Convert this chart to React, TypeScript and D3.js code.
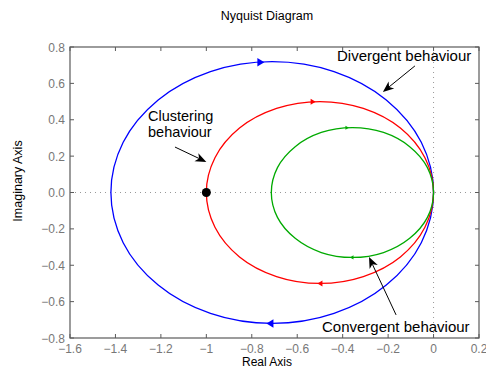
import React from 'react';
import * as d3 from 'd3';

// chart data
const xTicks = [-1.6, -1.4, -1.2, -1, -0.8, -0.6, -0.4, -0.2, 0, 0.2];
const yTicks = [-0.8, -0.6, -0.4, -0.2, 0, 0.2, 0.4, 0.6, 0.8];

// counter-clockwise from the origin
const bluePoints: [number, number][] = [
  [0, 0], [-0.054, 0.276], [-0.208, 0.509], [-0.438, 0.665], [-0.71, 0.72], [-0.982, 0.665],
  [-1.212, 0.509], [-1.366, 0.276], [-1.42, 0], [-1.366, -0.276], [-1.212, -0.509], [-0.982, -0.665],
  [-0.71, -0.72], [-0.438, -0.665], [-0.208, -0.509], [-0.054, -0.276],
];
const redPoints: [number, number][] = [
  [0, 0], [-0.038, 0.191], [-0.146, 0.354], [-0.309, 0.462], [-0.5, 0.5], [-0.691, 0.462],
  [-0.854, 0.354], [-0.962, 0.191], [-1.0, 0], [-0.962, -0.191], [-0.854, -0.354], [-0.691, -0.462],
  [-0.5, -0.5], [-0.309, -0.462], [-0.146, -0.354], [-0.038, -0.191],
];
const greenPoints: [number, number][] = [
  [0, 0], [-0.027, 0.137], [-0.105, 0.252], [-0.22, 0.33], [-0.357, 0.357], [-0.494, 0.33],
  [-0.609, 0.252], [-0.687, 0.137], [-0.714, 0], [-0.687, -0.137], [-0.609, -0.252], [-0.494, -0.33],
  [-0.357, -0.357], [-0.22, -0.33], [-0.105, -0.252], [-0.027, -0.137],
];

// direction markers: x, y, direction (1 = right, -1 = left)
const blueArrows: [number, number, number][] = [[-0.76, 0.716, 1], [-0.72, -0.72, -1]];
const redArrows: [number, number, number][] = [[-0.53, 0.499, 1], [-0.5, -0.5, -1]];
const greenArrows: [number, number, number][] = [[-0.38, 0.356, 1], [-0.36, -0.357, -1]];

const criticalPoint: [number, number] = [-1, 0];

const App = () => {
  const width = 486, height = 370;
  const marginLeft = 70, marginRight = 7, marginTop = 47, marginBottom = 32;

  const x = d3.scaleLinear().domain([-1.6, 0.2]).range([marginLeft, width - marginRight]);
  const y = d3.scaleLinear().domain([-0.8, 0.8]).range([height - marginBottom, marginTop]);

  const line = d3.line<[number, number]>()
    .x(d => x(d[0]))
    .y(d => y(d[1]))
    .curve(d3.curveCatmullRomClosed.alpha(0.5));

  const font = '"Liberation Sans", Arial, Helvetica, sans-serif';
  const AXIS = '#5a5a5a';
  const TICK_TEXT = '#777';

  const series = [
    { pts: bluePoints, arrows: blueArrows, color: '#0000ff', size: 7 },
    { pts: redPoints, arrows: redArrows, color: '#ff0000', size: 5 },
    { pts: greenPoints, arrows: greenArrows, color: '#00aa00', size: 3.5 },
  ];

  const tickLen = 4;
  const x0 = x(-1.6), x1 = x(0.2), y0 = y(-0.8), y1 = y(0.8);
  const labelCenter = 267;

  // annotation arrow: line with a filled head at the end
  const annArrow = (from: [number, number], to: [number, number], key: string) => {
    const fx = x(from[0]), fy = y(from[1]), tx = x(to[0]), ty = y(to[1]);
    const ang = Math.atan2(ty - fy, tx - fx);
    const L = 11, W = 4.5, notch = 3;
    const bx = tx - L * Math.cos(ang), by = ty - L * Math.sin(ang);
    const nx = tx - (L - notch) * Math.cos(ang), ny = ty - (L - notch) * Math.sin(ang);
    const px = -Math.sin(ang), py = Math.cos(ang);
    const head = `M${tx},${ty} L${bx + W * px},${by + W * py} L${nx},${ny} L${bx - W * px},${by - W * py} Z`;
    return (
      <g key={key}>
        <line x1={fx} y1={fy} x2={nx} y2={ny} stroke="#000" strokeWidth={1} />
        <path d={head} fill="#000" />
      </g>
    );
  };

  return (
    <svg width={width} height={height} style={{ position: 'absolute', left: 0, top: 0, background: '#fff' }}
      fontFamily={font}>
      <rect x={0} y={0} width={width} height={height} fill="#fff" />

      {/* zero lines */}
      <line x1={x0} x2={x1} y1={y(0)} y2={y(0)} stroke="#999" strokeWidth={1} strokeDasharray="1,4" />
      <line x1={x(0)} x2={x(0)} y1={y0} y2={y1} stroke="#999" strokeWidth={1} strokeDasharray="1,4" />

      {/* curves */}
      {series.map((s, i) => (
        <g key={i}>
          <path d={line(s.pts) || ''} fill="none" stroke={s.color} strokeWidth={1.3} />
          {s.arrows.map((a, j) => {
            const cx = x(a[0]), cy = y(a[1]);
            const L = s.size, W = s.size * 0.6;
            const d = `M${cx + a[2] * L / 2},${cy} L${cx - a[2] * L / 2},${cy - W} L${cx - a[2] * L / 2},${cy + W} Z`;
            return <path key={j} d={d} fill={s.color} />;
          })}
        </g>
      ))}

      {/* critical point */}
      <circle cx={x(criticalPoint[0])} cy={y(criticalPoint[1])} r={4.5} fill="#000" />

      {/* box and ticks */}
      <rect x={x0} y={y1} width={x1 - x0} height={y0 - y1} fill="none" stroke={AXIS} strokeWidth={1.2} />
      {xTicks.map(t => (
        <g key={'xt' + t}>
          <line x1={x(t)} x2={x(t)} y1={y0} y2={y0 - tickLen} stroke={AXIS} />
          <line x1={x(t)} x2={x(t)} y1={y1} y2={y1 + tickLen} stroke={AXIS} />
          <text x={x(t)} y={y0 + 15} textAnchor="middle" fontSize={12} fill={TICK_TEXT}>
            {d3.format('')(t).replace('-', '\u2212')}
          </text>
        </g>
      ))}
      {yTicks.map(t => (
        <g key={'yt' + t}>
          <line x1={x0} x2={x0 + tickLen} y1={y(t)} y2={y(t)} stroke={AXIS} />
          <line x1={x1} x2={x1 - tickLen} y1={y(t)} y2={y(t)} stroke={AXIS} />
          <text x={x0 - 5} y={y(t) + 4.5} textAnchor="end" fontSize={12} fill={TICK_TEXT}>
            {d3.format('.1f')(t).replace('-', '\u2212')}
          </text>
        </g>
      ))}

      {/* titles */}
      <text x={labelCenter} y={20} textAnchor="middle" fontSize={12.5} fill="#000">Nyquist Diagram</text>
      <text x={labelCenter} y={366} textAnchor="middle" fontSize={12} fill="#000">Real Axis</text>
      <text transform={`translate(22,181) rotate(-90)`} textAnchor="middle" fontSize={12.5} fill="#000">
        Imaginary Axis
      </text>

      {/* annotations */}
      <text x={x(-0.425)} y={60.5} fontSize={15} fill="#000">Divergent behaviour</text>
      {annArrow([-0.082, 0.696], [-0.223, 0.553], 'a1')}
      <text x={148} y={121} fontSize={14.5} fill="#000">Clustering</text>
      <text x={148} y={137} fontSize={14.5} fill="#000">behaviour</text>
      {annArrow([-1.138, 0.25], [-1.0, 0.168], 'a2')}
      <text x={x(-0.491)} y={332} fontSize={15} fill="#000">Convergent behaviour</text>
      {annArrow([-0.165, -0.673], [-0.284, -0.355], 'a3')}
    </svg>
  );
};

export default App;
